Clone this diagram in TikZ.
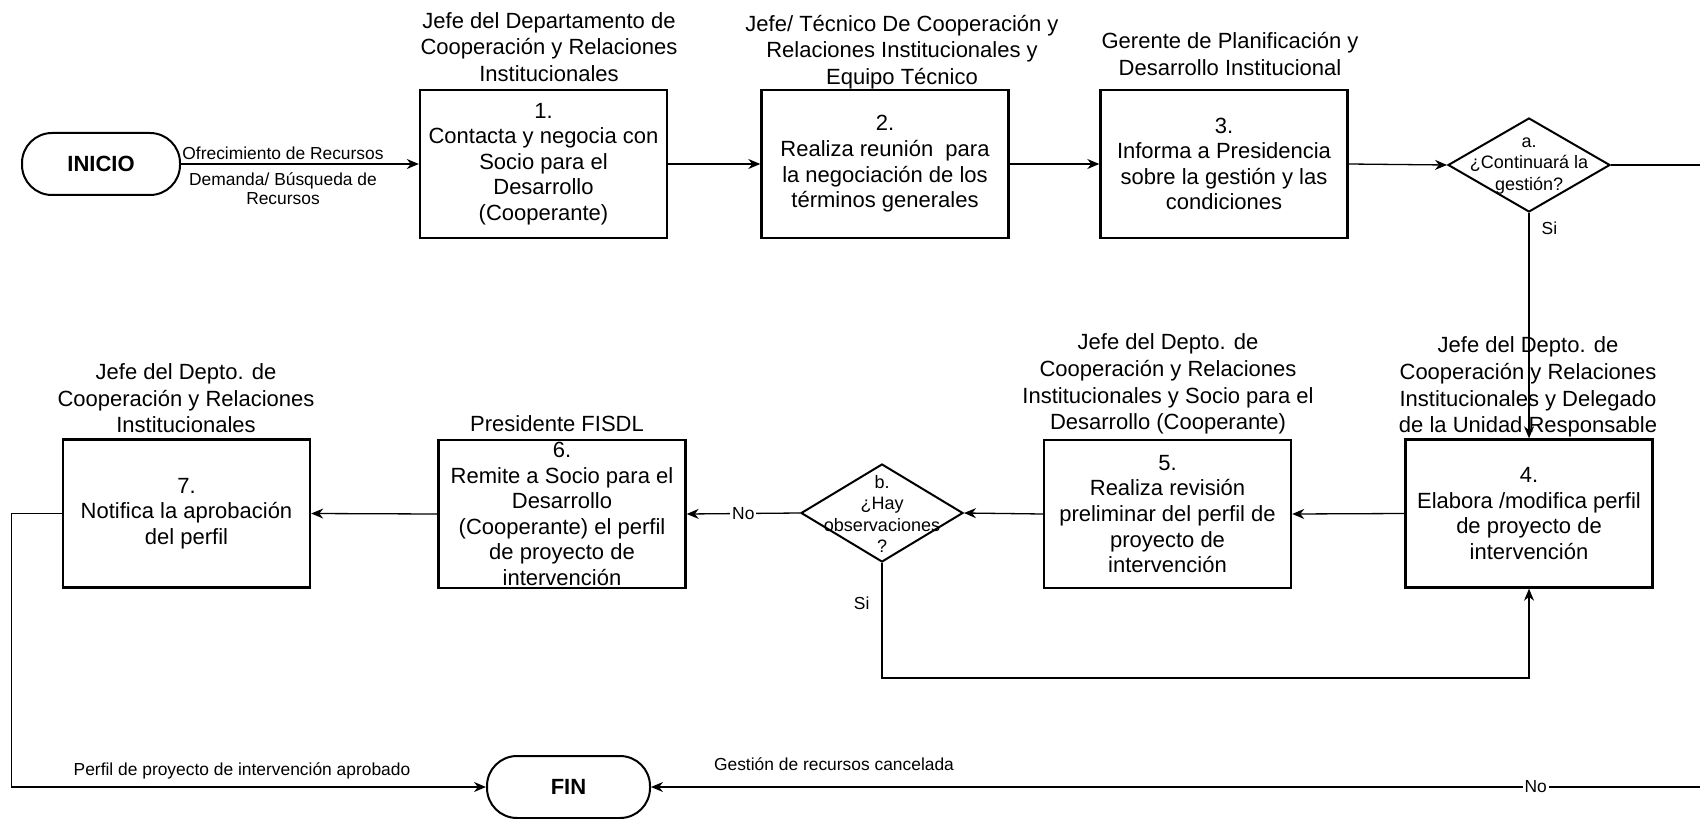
\documentclass[tikz,border=0pt]{standalone}
\usepackage{fontspec}
\setmainfont{Liberation Sans}
\usetikzlibrary{shapes.geometric,arrows.meta}
\tikzset{
  box/.style={draw, line width=1.2pt, minimum width=123.5pt, minimum height=74pt, inner sep=0pt, align=center, font=\fontsize{11}{12.8}\selectfont},
  term/.style={draw, line width=1pt, rounded corners=15pt, minimum height=31pt, inner sep=0pt, font=\fontsize{11}{13}\selectfont\bfseries},
  decision/.style={draw, diamond, line width=1pt, inner sep=0pt, minimum width=81pt, minimum height=47pt},
  dtext/.style={align=center, inner sep=0pt, font=\fontsize{9}{10.8}\selectfont},
  role/.style={align=center, inner sep=0pt, text depth=0pt, anchor=south, font=\fontsize{11}{13.3}\selectfont},
  elabel/.style={align=center, inner sep=0pt, font=\fontsize{8.7}{9.6}\selectfont},
  yn/.style={fill=white, inner sep=1pt, font=\fontsize{8.7}{10}\selectfont},
  conn/.style={line width=0.65pt, -{Stealth[length=6pt,width=5pt]}},
}
\begin{document}
\begin{tikzpicture}[x=0.5pt,y=-0.5pt]
\useasboundingbox (0,0) rectangle (1700,818);
% terminals
\node[term, minimum width=79pt] (inicio) at (101,164) {INICIO};
\node[term, minimum width=81.5pt] (fin) at (568.5,787) {FIN};
% row 1
\node[box] (b1) at (543.5,164) {1.\\Contacta y negocia con\\Socio para el\\Desarrollo\\(Cooperante)};
\node[box] (b2) at (885,164) {2.\\Realiza reunión\ \ para\\la negociación de los\\términos generales};
\node[box] (b3) at (1224,164) {3.\\Informa a Presidencia\\sobre la gestión y las\\condiciones};
\node[decision] (da) at (1529,165) {};
\node[dtext] (dat) at (1529,166) {a.\\¿Continuará la\\gestión?};
% row 2
\node[box] (b4) at (1529,513.5) {4.\\Elabora /modifica perfil\\de proyecto de\\intervención};
\node[box] (b5) at (1167.5,514) {5.\\Realiza revisión\\preliminar del perfil de\\proyecto de\\intervención};
\node[decision, minimum height=49pt] (db) at (882,513) {};
\node[dtext] (dbt) at (882,514) {b.\\¿Hay\\observaciones\\?};
\node[box] (b6) at (562,514) {6.\\Remite a Socio para el\\Desarrollo\\(Cooperante) el perfil\\de proyecto de\\intervención};
\node[box] (b7) at (186.5,513.5) {7.\\Notifica la aprobación\\del perfil};
% role labels
\node[role] (r1) at (549,82) {Jefe del Departamento de\\Cooperación y Relaciones\\Institucionales};
\node[role] (r2) at (902,85) {Jefe/ Técnico De Cooperación y\\Relaciones Institucionales y\\Equipo Técnico};
\node[role] (r3) at (1230,76) {Gerente de Planificación y\\Desarrollo Institucional};
\node[role] (r4) at (1528,433) {Jefe del Depto. de\\Cooperación y Relaciones\\Institucionales y Delegado\\de la Unidad Responsable};
\node[role] (r5) at (1168,430) {Jefe del Depto. de\\Cooperación y Relaciones\\Institucionales y Socio para el\\Desarrollo (Cooperante)};
\node[role] (r6) at (557,432) {Presidente FISDL};
\node[role] (r7) at (186,433) {Jefe del Depto. de\\Cooperación y Relaciones\\Institucionales};
% connectors
\draw[conn] (inicio.east) -- (b1.west);
\node[elabel] (l1) at (283,153) {Ofrecimiento de Recursos};
\node[elabel] (l2) at (283,189) {Demanda/ Búsqueda de\\Recursos};
\draw[conn] (b1.east) -- (b2.west);
\draw[conn] (b2.east) -- (b3.west);
\draw[conn] (b3.east) -- (da.west);
\coordinate (rc) at (1703,165);
\coordinate (rb) at (1703,787);
\draw[conn] (da.east) -- (rc) -- (rb) -- node[yn, pos=0.159] {No} (fin.east);
\node[elabel] (l3) at (834,764) {Gestión de recursos cancelada};
\draw[conn] (da.south) -- node[elabel, pos=0.07, right=6pt] {Si} (b4.north);
\draw[conn] (b4.west) -- (b5.east);
\draw[conn] (b5.west) -- (db.east);
\draw[conn] (db.west) -- node[yn] {No} (b6.east);
\draw[conn] (db.south) -- node[elabel, pos=0.35, left=6pt] {Si} ++(0,115) -| (b4.south);
\draw[conn] (b6.west) -- (b7.east);
\draw[conn] (b7.west) -- ++(-50,0) |- (fin.west);
\node[elabel] (l4) at (242,771) {Perfil de proyecto de intervención aprobado};
\end{tikzpicture}
\end{document}
